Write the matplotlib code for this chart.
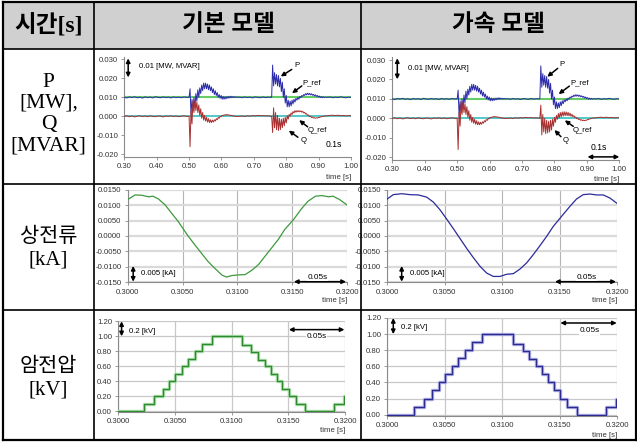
import numpy as np
import matplotlib
matplotlib.use("Agg")
import matplotlib.pyplot as plt
from matplotlib.lines import Line2D
from matplotlib.patches import Rectangle

# ---------------- data ----------------
header_labels = ["시간[s]", "기본 모델", "가속 모델"]
row_labels = ["P\n[MW],\nQ\n[MVAR]", "상전류\n[kA]", "암전압\n[kV]"]

# Row 1: P / Q (segments: start time, step, values)
seg_starts = [0.300, 0.500, 0.656, 0.755, 0.928]
seg_steps = [0.008, 0.003, 0.008, 0.003, 0.008]

P_base1 = [0.0100, 0.0097, 0.0102, 0.0099, 0.0103, 0.0098, 0.0101, 0.0096, 0.0102, 0.0099,
           0.0101, 0.0097, 0.0103, 0.0100, 0.0098, 0.0102, 0.0099, 0.0101, 0.0097, 0.0102,
           0.0099, 0.0101, 0.0098, 0.0102, 0.0100]
P_tr1 = [0.0100, 0.0145, 0.0010, 0.0090, 0.0030, 0.0100, 0.0050, 0.0120, 0.0080, 0.0140,
         0.0100, 0.0150, 0.0120, 0.0165, 0.0135, 0.0175, 0.0145, 0.0175, 0.0145, 0.0170,
         0.0140, 0.0165, 0.0135, 0.0155, 0.0125, 0.0145, 0.0115, 0.0135, 0.0110, 0.0125,
         0.0100, 0.0115, 0.0095, 0.0110, 0.0090, 0.0105, 0.0090, 0.0103, 0.0092, 0.0104,
         0.0095, 0.0105, 0.0097, 0.0106, 0.0098, 0.0104, 0.0099, 0.0103, 0.0099, 0.0102,
         0.0100]
P_base2 = [0.0101, 0.0098, 0.0102, 0.0099, 0.0101, 0.0097, 0.0102, 0.0100, 0.0098, 0.0102,
           0.0099, 0.0101, 0.0100]
P_tr2 = [0.0100, 0.0270, 0.0160, 0.0230, 0.0170, 0.0220, 0.0160, 0.0215, 0.0155, 0.0200,
         0.0130, 0.0180, 0.0100, 0.0145, 0.0070, 0.0110, 0.0050, 0.0085, 0.0050, 0.0080,
         0.0055, 0.0085, 0.0065, 0.0090, 0.0075, 0.0095, 0.0085, 0.0100, 0.0090, 0.0105,
         0.0098, 0.0110, 0.0105, 0.0115, 0.0110, 0.0120, 0.0113, 0.0122, 0.0114, 0.0121,
         0.0113, 0.0119, 0.0111, 0.0116, 0.0108, 0.0113, 0.0105, 0.0110, 0.0102, 0.0107,
         0.0099, 0.0104, 0.0098, 0.0103, 0.0099, 0.0101]
P_base3 = [0.0100, 0.0102, 0.0098, 0.0101, 0.0099, 0.0103, 0.0100, 0.0098, 0.0101, 0.0100]

Q_base1 = [0.0000, 0.0003, -0.0002, 0.0002, -0.0003, 0.0001, 0.0003, -0.0001, 0.0002, -0.0002,
           0.0003, 0.0000, -0.0002, 0.0002, 0.0001, -0.0003, 0.0002, 0.0000, 0.0003, -0.0001,
           0.0002, -0.0002, 0.0001, 0.0003, 0.0000]
Q_tr1 = [0.0000, -0.0160, 0.0030, -0.0040, 0.0080, 0.0020, 0.0085, 0.0030, 0.0075, 0.0020,
         0.0060, 0.0005, 0.0040, -0.0010, 0.0020, -0.0020, 0.0005, -0.0025, -0.0005, -0.0030,
         -0.0012, -0.0033, -0.0018, -0.0033, -0.0020, -0.0030, -0.0018, -0.0025, -0.0012, -0.0018,
         -0.0006, -0.0010, 0.0000, -0.0002, 0.0005, 0.0003, 0.0008, 0.0006, 0.0010, 0.0007,
         0.0009, 0.0006, 0.0007, 0.0004, 0.0005, 0.0002, 0.0003, 0.0000, 0.0001, -0.0001,
         0.0000]
Q_base2 = [0.0000, 0.0002, -0.0001, 0.0003, 0.0001, 0.0004, 0.0002, 0.0005, 0.0003, 0.0004,
           0.0002, 0.0003, 0.0001]
Q_tr2_basic = [0.0000, -0.0085, 0.0045, -0.0060, 0.0020, -0.0070, 0.0005, -0.0075, -0.0010, -0.0070,
               -0.0015, -0.0060, -0.0010, -0.0050, -0.0005, -0.0035, 0.0003, -0.0015, 0.0010, 0.0000,
               0.0018, 0.0010, 0.0025, 0.0018, 0.0030, 0.0022, 0.0030, 0.0024, 0.0030, 0.0024,
               0.0029, 0.0022, 0.0026, 0.0018, 0.0021, 0.0012, 0.0014, 0.0005, 0.0007, -0.0001,
               0.0001, -0.0006, -0.0004, -0.0009, -0.0007, -0.0010, -0.0008, -0.0009, -0.0006, -0.0006,
               -0.0003, -0.0003, 0.0000, 0.0000, 0.0002, 0.0002]
Q_tr2_accel = [0.0000, 0.0068, -0.0085, 0.0020, -0.0070, 0.0000, -0.0078, -0.0010, -0.0075, -0.0015,
               -0.0070, -0.0010, -0.0060, -0.0005, -0.0040, 0.0005, -0.0020, 0.0015, -0.0005, 0.0025,
               0.0003, 0.0030, 0.0008, 0.0033, 0.0012, 0.0034, 0.0014, 0.0033, 0.0014, 0.0031,
               0.0013, 0.0027, 0.0011, 0.0021, 0.0008, 0.0014, 0.0004, 0.0007, -0.0002, 0.0001,
               -0.0006, -0.0004, -0.0010, -0.0007, -0.0012, -0.0009, -0.0012, -0.0009, -0.0010, -0.0006,
               -0.0006, -0.0003, -0.0002, 0.0000, 0.0001, 0.0002]
Q_base3 = [0.0003, 0.0005, 0.0006, 0.0004, 0.0006, 0.0003, 0.0005, 0.0002, 0.0004, 0.0003]

P_ref_value = 0.010
Q_ref_value = 0.000

# Row 2: phase current [kA]
I_basic_t = [0.30000, 0.30067, 0.30128, 0.30190, 0.30230, 0.30280, 0.30340, 0.30400, 0.30460,
             0.30500, 0.30550, 0.30610, 0.30670, 0.30730, 0.30800, 0.30860, 0.30900, 0.30950,
             0.31010, 0.31070, 0.31130, 0.31190, 0.31250, 0.31310, 0.31370, 0.31430, 0.31510,
             0.31580, 0.31640, 0.31710, 0.31770, 0.31830, 0.31870, 0.31930, 0.32000]
I_basic_v = [0.0118, 0.0133, 0.0132, 0.0127, 0.0129, 0.0120, 0.0101, 0.0074, 0.0047,
             0.0026, 0.0000, -0.0028, -0.0055, -0.0082, -0.0107, -0.0127, -0.0133, -0.0128,
             -0.0126, -0.0125, -0.0111, -0.0093, -0.0066, -0.0039, -0.0012, 0.0021, 0.0053,
             0.0087, 0.0112, 0.0129, 0.0131, 0.0127, 0.0129, 0.0118, 0.0100]
I_accel_t = [0.30000, 0.30052, 0.30125, 0.30197, 0.30270, 0.30342, 0.30400, 0.30458, 0.30516,
             0.30574, 0.30632, 0.30690, 0.30748, 0.30806, 0.30864, 0.30922, 0.30980, 0.31038,
             0.31096, 0.31154, 0.31212, 0.31270, 0.31328, 0.31386, 0.31443, 0.31516, 0.31588,
             0.31646, 0.31704, 0.31762, 0.31820, 0.31878, 0.31936, 0.32000]
I_accel_v = [0.0120, 0.0134, 0.0137, 0.0134, 0.0133, 0.0126, 0.0110, 0.0085, 0.0055,
             0.0024, -0.0008, -0.0040, -0.0070, -0.0098, -0.0120, -0.0131, -0.0131, -0.0124,
             -0.0122, -0.0107, -0.0087, -0.0060, -0.0031, -0.0001, 0.0031, 0.0064, 0.0096,
             0.0120, 0.0134, 0.0136, 0.0133, 0.0133, 0.0123, 0.0105]

# Row 3: arm voltage [kV] (step change times and levels)
V_basic_t = [0.30000, 0.30230, 0.30318, 0.30391, 0.30447, 0.30500, 0.30565, 0.30618, 0.30676,
             0.30741, 0.30824, 0.31088, 0.31171, 0.31235, 0.31294, 0.31347, 0.31397, 0.31447,
             0.31509, 0.31568, 0.31647, 0.31903, 0.31994, 0.32000]
V_accel_t = [0.30000, 0.30232, 0.30319, 0.30386, 0.30452, 0.30501, 0.30559, 0.30617, 0.30675,
             0.30733, 0.30820, 0.31090, 0.31177, 0.31235, 0.31293, 0.31342, 0.31394, 0.31449,
             0.31501, 0.31565, 0.31646, 0.31899, 0.31988, 0.32000]
V_levels = [0.00, 0.10, 0.20, 0.30, 0.40, 0.50, 0.60, 0.70, 0.80, 0.90, 1.00, 0.88, 0.79,
            0.69, 0.60, 0.50, 0.40, 0.30, 0.20, 0.10, 0.00, 0.10, 0.20, 0.20]

pq_xticks = [0.30, 0.40, 0.50, 0.60, 0.70, 0.80, 0.90, 1.00]
pq_yticks = [-0.020, -0.010, 0.000, 0.010, 0.020, 0.030]
zoom_xticks = [0.3000, 0.3050, 0.3100, 0.3150, 0.3200]
i_yticks = [-0.015, -0.010, -0.005, 0.000, 0.005, 0.010, 0.015]
v_yticks = [0.00, 0.20, 0.40, 0.60, 0.80, 1.00, 1.20]

# ---------------- figure ----------------
W, H = 637, 443
fig = plt.figure(figsize=(W / 100, H / 100), dpi=100)
fig.patch.set_facecolor("white")
SANS = "Liberation Sans"
TFS = 5.6


def fx(x):
    return x / W


def fy(y):
    return 1 - y / H


def axes_px(l, t, r, b):
    return fig.add_axes([fx(l), fy(b), (r - l) / W, (b - t) / H])


def build(parts):
    ts, vs = [], []
    for t0, dt, vals in parts:
        ts.append(t0 + dt * np.arange(len(vals)))
        vs.append(np.array(vals))
    return np.concatenate(ts), np.concatenate(vs)


def style_axes(ax, xticks, yticks, xfmt, yfmt):
    ax.set_xticks(xticks)
    ax.set_yticks(yticks)
    ax.set_xticklabels([xfmt % v for v in xticks], fontsize=TFS, family=SANS, color="#333333")
    ax.set_yticklabels([yfmt % v for v in yticks], fontsize=TFS, family=SANS, color="#333333")
    for s in ["top", "right"]:
        ax.spines[s].set_visible(False)
    for s in ["left", "bottom"]:
        ax.spines[s].set_color("#8a8a8a")
        ax.spines[s].set_linewidth(0.8)
    ax.tick_params(length=2.5, width=0.6, color="#8a8a8a", pad=2)
    ax.text(1.0, -0.2 if ax.get_position().height < 0.23 else -0.19, "time [s]",
            transform=ax.transAxes, ha="right", va="center", fontsize=TFS, family=SANS,
            color="#333333")


def darrow(ax, p1, p2):
    ax.annotate("", xy=p2, xytext=p1,
                arrowprops=dict(arrowstyle="<|-|>", color="black", lw=1.1,
                                mutation_scale=6, shrinkA=0, shrinkB=0))


def pointer(ax, tail, head):
    ax.annotate("", xy=head, xytext=tail,
                arrowprops=dict(arrowstyle="-|>", color="black", lw=1.1,
                                mutation_scale=6, shrinkA=0, shrinkB=0))


# --- Row 1 ---
def pq_panel(ax, Q_tr2, lab):
    tP, vP = build(zip(seg_starts, seg_steps, [P_base1, P_tr1, P_base2, P_tr2, P_base3]))
    tQ, vQ = build(zip(seg_starts, seg_steps, [Q_base1, Q_tr1, Q_base2, Q_tr2, Q_base3]))
    ax.plot([0.30, 1.00], [P_ref_value, P_ref_value], color="#66cc66", lw=1.5, zorder=2)
    ax.plot([0.30, 1.00], [Q_ref_value, Q_ref_value], color="#45c4c4", lw=1.3, zorder=2)
    ax.plot(tP, vP, color="#2d2daa", lw=0.7, zorder=3)
    ax.plot(tQ, vQ, color="#a83030", lw=0.7, zorder=3)
    ax.set_xlim(0.30, 1.00)
    ax.set_ylim(-0.0215, 0.0315)
    style_axes(ax, pq_xticks, pq_yticks, "%.2f", "%.3f")
    darrow(ax, (lab["va"][0], lab["va"][1]), (lab["va"][0], lab["va"][2]))
    ax.text(lab["vt"][0], lab["vt"][1], "0.01 [MW, MVAR]", fontsize=TFS, family=SANS,
            va="center", ha="left")
    for name in ["P", "P_ref", "Q_ref", "Q"]:
        tx, ty, ax0, ay0, hx, hy = lab[name]
        ax.text(tx, ty, name, fontsize=TFS, family=SANS, ha="left", va="center")
        pointer(ax, (ax0, ay0), (hx, hy))
    darrow(ax, (lab["ha"][0], lab["ha"][2]), (lab["ha"][1], lab["ha"][2]))
    ax.text(lab["ht"][0], lab["ht"][1], "0.1s", fontsize=TFS + 0.6, family=SANS,
            ha="center", va="center")


ax1 = axes_px(124.3, 56.5, 351.0, 157.2)
pq_panel(ax1, Q_tr2_basic, {
    "va": (0.312, 0.0205, 0.0305), "vt": (0.345, 0.0262),
    "P": (0.824, 0.0268, 0.817, 0.0247, 0.783, 0.0210),
    "P_ref": (0.850, 0.0177, 0.848, 0.0160, 0.818, 0.0122),
    "Q_ref": (0.866, -0.0075, 0.866, -0.0055, 0.840, -0.0020),
    "Q": (0.845, -0.0128, 0.836, -0.0110, 0.808, -0.0075),
    "ha": (0.907, 1.002, -0.0198), "ht": (0.947, -0.0148)})

ax2 = axes_px(392.3, 57.1, 619.3, 160.2)
pq_panel(ax2, Q_tr2_accel, {
    "va": (0.3154, 0.0201, 0.0309), "vt": (0.349, 0.0254),
    "P": (0.815, 0.0276, 0.810, 0.0257, 0.778, 0.0214),
    "P_ref": (0.848, 0.0182, 0.846, 0.0166, 0.813, 0.0125),
    "Q_ref": (0.856, -0.0062, 0.858, -0.0041, 0.832, -0.0010),
    "Q": (0.825, -0.0113, 0.820, -0.0094, 0.800, -0.0060),
    "ha": (0.902, 1.000, -0.0198), "ht": (0.938, -0.0150)})


# --- Row 2 ---
def i_panel(ax, t, v, color, va_x, vt_x, ha_x0):
    ax.yaxis.grid(True, color="#dadada", lw=1.6)
    ax.xaxis.grid(True, color="#b4b4b4", lw=0.8)
    ax.set_axisbelow(True)
    ax.plot(t, v, color=color, lw=0.9, zorder=3)
    ax.set_xlim(0.300, 0.320)
    ax.set_ylim(-0.015, 0.015)
    style_axes(ax, zoom_xticks, i_yticks, "%.4f", "%.4f")
    darrow(ax, (va_x, -0.0148), (va_x, -0.0097))
    ax.text(vt_x, -0.0122, "0.005 [kA]", fontsize=TFS, family=SANS, va="center", ha="left",
            bbox=dict(facecolor="white", edgecolor="none", pad=0.5), zorder=4)
    darrow(ax, (ha_x0, -0.0148), (0.31988, -0.0148))
    ax.text(0.3173, -0.0133, "0.05s", fontsize=TFS + 0.3, family=SANS, ha="center",
            va="center", bbox=dict(facecolor="white", edgecolor="none", pad=0.5), zorder=4)


ax3 = axes_px(127.7, 189.7, 347.3, 282.3)
i_panel(ax3, I_basic_t, I_basic_v, "#3d9a3d", 0.3005, 0.3012, 0.31514)
ax4 = axes_px(387.3, 189.7, 617.3, 282.3)
i_panel(ax4, I_accel_t, I_accel_v, "#2b2b9a", 0.30125, 0.30195, 0.31458)


# --- Row 3 ---
def v_panel(ax, t, color, halo, va_x, vt, ha_y, ht):
    ax.yaxis.grid(True, color="#c8c8c8", lw=0.9)
    ax.xaxis.grid(True, color="#c8c8c8", lw=0.9)
    ax.set_axisbelow(True)
    ax.step(t, V_levels, where="post", color=halo, lw=2.4, zorder=3)
    ax.step(t, V_levels, where="post", color=color, lw=0.9, zorder=3)
    ax.set_xlim(0.300, 0.320)
    ax.set_ylim(-0.012, 1.2)
    style_axes(ax, zoom_xticks, v_yticks, "%.4f", "%.2f")
    darrow(ax, (va_x, 1.0), (va_x, 1.2))
    ax.text(vt[0], vt[1], "0.2 [kV]", fontsize=TFS, family=SANS, va="center", ha="left",
            bbox=dict(facecolor="white", edgecolor="none", pad=0.5), zorder=4)
    darrow(ax, (0.31505, ha_y), (0.31995, ha_y))
    ax.text(ht[0], ht[1], "0.05s", fontsize=TFS + 0.3, family=SANS, ha="center",
            va="center", bbox=dict(facecolor="white", edgecolor="none", pad=0.5), zorder=4)


ax5 = axes_px(118.3, 321.3, 345.0, 412.2)
v_panel(ax5, V_basic_t, "#2f8a2f", "#a6dca6", 0.30029, (0.30097, 1.067), 1.089, (0.3175, 1.0))
ax6 = axes_px(387.3, 318.0, 617.3, 415.6)
v_panel(ax6, V_accel_t, "#2a2a92", "#a9a9e0", 0.30052, (0.30116, 1.076), 1.138, (0.3176, 1.043))

# ---------------- table frame ----------------
fig.add_artist(Rectangle((fx(3), fy(49)), (636 - 3) / W, (49 - 2) / H,
                         transform=fig.transFigure, facecolor="#d0d0d0", edgecolor="none",
                         zorder=0))


def hline(y, x0, x1, lw):
    fig.add_artist(Line2D([fx(x0), fx(x1)], [fy(y), fy(y)], color="black", lw=lw,
                          transform=fig.transFigure))


def vline(x, y0, y1, lw):
    fig.add_artist(Line2D([fx(x), fx(x)], [fy(y0), fy(y1)], color="black", lw=lw,
                          transform=fig.transFigure))


hline(2, 3, 636, 1.6)
hline(440, 3, 636, 1.6)
vline(3, 2, 440, 1.6)
vline(636, 2, 440, 1.6)
hline(49, 3, 636, 1.2)
hline(184, 3, 636, 1.2)
hline(310, 3, 636, 1.2)
vline(94, 2, 440, 1.2)
vline(361, 2, 440, 1.2)

KFAM = ["Liberation Serif", "Noto Sans CJK KR"]
fig.text(fx(48.5), fy(25.5), header_labels[0], ha="center", va="center", fontsize=17,
         family=KFAM, weight="bold")
fig.text(fx(228), fy(25.5), header_labels[1], ha="center", va="center", fontsize=17,
         family=KFAM, weight="bold")
fig.text(fx(498), fy(25.5), header_labels[2], ha="center", va="center", fontsize=17,
         family=KFAM, weight="bold")

fig.text(fx(48.5), fy(114), row_labels[0], ha="center", va="center", fontsize=15.5,
         family=KFAM, linespacing=1.15)
fig.text(fx(48.5), fy(249), row_labels[1], ha="center", va="center", fontsize=15,
         family=KFAM, linespacing=1.25)
fig.text(fx(48.5), fy(379), row_labels[2], ha="center", va="center", fontsize=15,
         family=KFAM, linespacing=1.25)

fig.savefig("out.png", dpi=100, facecolor="white")
